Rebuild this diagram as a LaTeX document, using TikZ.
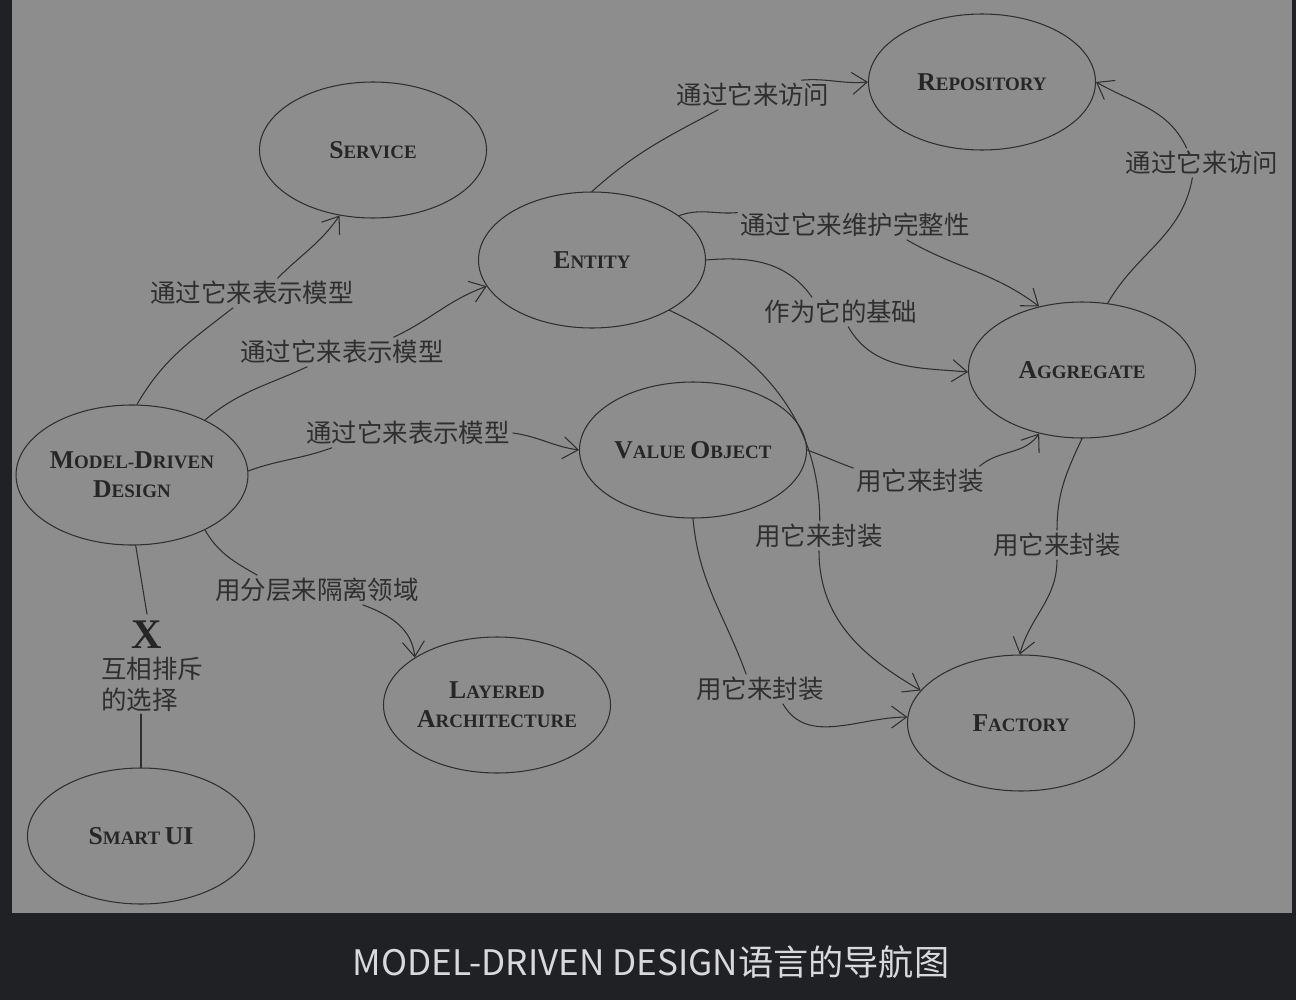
\documentclass[tikz,border=0pt]{standalone}
\usepackage{fontspec}
\setmainfont{Liberation Serif}
\newfontfamily\cjk{Noto Sans CJK SC}
\usetikzlibrary{arrows.meta,shapes.geometric}
\definecolor{paper}{HTML}{8D8D8D}
\definecolor{frame}{HTML}{202124}
\definecolor{ink}{HTML}{2F2F2F}
\definecolor{capt}{HTML}{D9D9DC}
\newcommand\ini[1]{{\fontsize{14.6pt}{16.5pt}\selectfont #1}}
\begin{document}
\begin{tikzpicture}[x=0.2mm, y=-0.2mm, line cap=round, line join=round,
    box/.style={ellipse, draw=ink, line width=0.6pt, minimum width=4.54cm,
      minimum height=2.72cm, inner sep=0pt, text=black!85, align=center,
      font=\fontsize{10.8pt}{16.5pt}\selectfont\bfseries},
    lbl/.style={font=\cjk\fontsize{14.5pt}{17.5pt}\selectfont, text=ink, inner sep=1.5pt},
    link/.style={draw=ink, line width=0.6pt},
    arr/.style={link, -{Straight Barb[length=3mm, width=4.4mm]}}]
  % frame and paper
  \fill[frame] (0,0) rectangle (1296,1000);
  \fill[paper] (12,0) rectangle (1292,913);
  \useasboundingbox (0,0) rectangle (1296,1000);
  % patterns
  \node[box] (service) at (373,150) {\ini{S}ERVICE};
  \node[box] (repo) at (982,82) {\ini{R}EPOSITORY};
  \node[box] (entity) at (592,260) {\ini{E}NTITY};
  \node[box] (agg) at (1082,370) {\ini{A}GGREGATE};
  \node[box] (vo) at (693,450) {\ini{V}ALUE \ini{O}BJECT};
  \node[box, minimum height=2.8cm] (mdd) at (132,475) {\ini{M}ODEL-\ini{D}RIVEN\\\ini{D}ESIGN};
  \node[box] (layer) at (497,705) {\ini{L}AYERED\\\ini{A}RCHITECTURE};
  \node[box] (factory) at (1021,723) {\ini{F}ACTORY};
  \node[box] (smart) at (141,836) {\ini{S}MART \ini{UI}};
  % labels
  \node[lbl] (l1) at (252,293) {通过它来表示模型};
  \node[lbl] (l2) at (342,352) {通过它来表示模型};
  \node[lbl] (l3) at (408,433) {通过它来表示模型};
  \node[lbl] (l4) at (317,590) {用分层来隔离领域};
  \node[font=\fontsize{24pt}{24pt}\selectfont\bfseries, text=black!85, inner sep=1pt,
    outer sep=3pt] (cross) at (147,635) {X};
  \node[lbl, align=left] (l5) at (152,684) {互相排斥\\的选择};
  \node[lbl] (l6) at (753,95) {通过它来访问};
  \node[lbl] (l7) at (855,225) {通过它来维护完整性};
  \node[lbl] (l8) at (841,312) {作为它的基础};
  \node[lbl] (l9) at (1202,163) {通过它来访问};
  \node[lbl] (l10) at (920,481) {用它来封装};
  \node[lbl] (l11) at (819,536) {用它来封装};
  \node[lbl] (l12) at (760,689) {用它来封装};
  \node[lbl] (l13) at (1057,545) {用它来封装};
  % links
  \draw[link] (mdd.86) to[out=60,in=218] (l1.218);
  \draw[arr] (l1.30) to[out=45,in=235] (service.243);
  \draw[link] (mdd.37) to[out=40,in=205] (l2.203);
  \draw[arr] (l2.16) to[out=25,in=200] (entity.194);
  \draw[link] (mdd.2) to[out=20,in=200] (l3.191);
  \draw[arr] (l3.east) to[out=-8,in=172] (vo.west);
  \draw[link] (mdd.323) to[out=-60,in=150] (l4.166);
  \draw[arr] (l4.342) to[out=-20,in=95] (layer.150);
  \draw[link] (mdd.-87) -- (cross.north);
  \draw[link] (smart.north |- l5.south) -- (smart.north);
  \draw[link] (entity.north) to[out=42,in=208] (l6.203);
  \draw[arr] (l6.17) to[out=5,in=185] (repo.west);
  \draw[link] (entity.27) to[out=20,in=185] (l7.174);
  \draw[arr] (l7.-16) to[out=-30,in=143] (agg.124);
  \draw[link] (entity.east) to[out=5,in=125] (l8.153);
  \draw[arr] (l8.296) to[out=-60,in=175] (agg.181);
  \draw[link] (agg.69) to[out=60,in=260] (l9.237);
  \draw[arr] (l9.136) to[out=115,in=-30] (repo.east);
  \draw[link] (vo.east) to[out=-20,in=160] (l10.169);
  \draw[arr] (l10.14) to[out=40,in=235] (agg.236);
  \draw[link] (entity.327) to[out=-25,in=90] (l11.87);
  \draw[arr] (l11.south) to[out=-90,in=150] (factory.162);
  \draw[link] (vo.south) to[out=-85,in=110] (l12.133);
  \draw[arr] (l12.327) to[out=-60,in=180] (factory.177);
  \draw[link] (agg.south) to[out=-115,in=90] (l13.north);
  \draw[arr] (l13.south) to[out=-90,in=75] (factory.91);
  % caption
  \node[font=\cjk\fontsize{20pt}{24pt}\selectfont, text=capt] (caption) at (651,962)
    {MODEL-DRIVEN DESIGN语言的导航图};
\end{tikzpicture}
\end{document}
